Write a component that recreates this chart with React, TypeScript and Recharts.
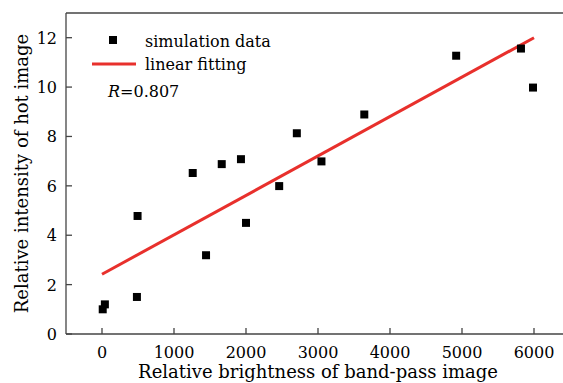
import { ScatterChart, Scatter, XAxis, YAxis, ZAxis, ReferenceLine } from 'recharts'

const brightness = [10, 40, 485, 494, 1260, 1445, 1663, 1930, 2000, 2461, 2706, 3048, 3643, 4919, 5819, 5986]
const intensity = [1.0, 1.2, 1.5, 4.78, 6.52, 3.19, 6.88, 7.08, 4.5, 5.99, 8.13, 6.99, 8.89, 11.27, 11.56, 9.98]
const fitX = [0, 6000]
const fitY = [2.42, 12.0]
const xTicks = [0, 1000, 2000, 3000, 4000, 5000, 6000]
const yTicks = [0, 2, 4, 6, 8, 10, 12]
const R_VALUE = '0.807'

const FONT = 'DejaVu Serif'
const AXIS = '#444'
const RED = '#e8302c'

const points = brightness.map((x, i) => ({ x, y: intensity[i] }))
const fitLine = fitX.map((x, i) => ({ x, y: fitY[i] }))

function XTick({ x, y, payload }: any) {
  return (
    <g>
      <line x1={x} y1={y} x2={x} y2={y - 6} stroke={AXIS} strokeWidth={1.3} />
      <text x={x} y={y + 24} textAnchor="middle" fontFamily={FONT} fontSize={16} fill="#000">{payload.value}</text>
    </g>
  )
}

function YTick({ x, y, payload }: any) {
  return (
    <g>
      <line x1={x} y1={y} x2={x + 6} y2={y} stroke={AXIS} strokeWidth={1.3} />
      <text x={x - 9} y={y + 6} textAnchor="end" fontFamily={FONT} fontSize={16} fill="#000">{payload.value}</text>
    </g>
  )
}

// legend drawn on top of the plot, upper left corner
function LegendBox() {
  const txt = { fontFamily: FONT, fontSize: 16, fill: '#000' }
  return (
    <svg width={200} height={90} style={{ position: 'absolute', left: 80, top: 25 }}>
      <rect x={29} y={11} width={8} height={8} fill="#000" />
      <text x={65} y={22} {...txt}>simulation data</text>
      <line x1={12} y1={39} x2={56} y2={39} stroke={RED} strokeWidth={3} />
      <text x={65} y={45} {...txt}>linear fitting</text>
      <text x={28} y={72} {...txt}><tspan fontStyle="italic">R</tspan>={R_VALUE}</text>
    </svg>
  )
}

export default function App() {
  return (
    <div style={{ position: 'absolute', left: 0, top: 0, width: 563, height: 383, overflow: 'hidden', background: '#fff' }}>
      <ScatterChart width={575} height={383} margin={{ top: 13, right: 5, bottom: 0, left: 0 }}>
        <XAxis
          type="number"
          dataKey="x"
          domain={[-500, 6500]}
          ticks={xTicks}
          height={49}
          tickSize={0}
          tickMargin={0}
          tick={<XTick />}
          axisLine={{ stroke: AXIS, strokeWidth: 1.3 }}
          label={(props: any) => {
            const vb = props.viewBox
            return (
              <text x={vb.x + vb.width / 2} y={378} textAnchor="middle" fontFamily={FONT} fontSize={18} fill="#000">
                Relative brightness of band-pass image
              </text>
            )
          }}
        />
        <YAxis
          type="number"
          dataKey="y"
          domain={[0, 13]}
          ticks={yTicks}
          width={66}
          tickSize={0}
          tickMargin={0}
          tick={<YTick />}
          axisLine={{ stroke: AXIS, strokeWidth: 1.3 }}
          label={(props: any) => {
            const vb = props.viewBox
            const cy = vb.y + vb.height / 2
            return (
              <text transform={`translate(28,${cy}) rotate(-90)`} textAnchor="middle" fontFamily={FONT} fontSize={18} fill="#000">
                Relative intensity of hot image
              </text>
            )
          }}
        />
        <ZAxis range={[64, 64]} />
        <ReferenceLine y={13} stroke={AXIS} strokeWidth={1.3} />
        <ReferenceLine x={6500} stroke={AXIS} strokeWidth={1.3} />
        <Scatter name="linear fitting" data={fitLine} line={{ stroke: RED, strokeWidth: 3 }} shape={() => <g />} isAnimationActive={false} />
        <Scatter name="simulation data" data={points} shape="square" fill="#000" isAnimationActive={false} />
      </ScatterChart>
      <LegendBox />
    </div>
  )
}
